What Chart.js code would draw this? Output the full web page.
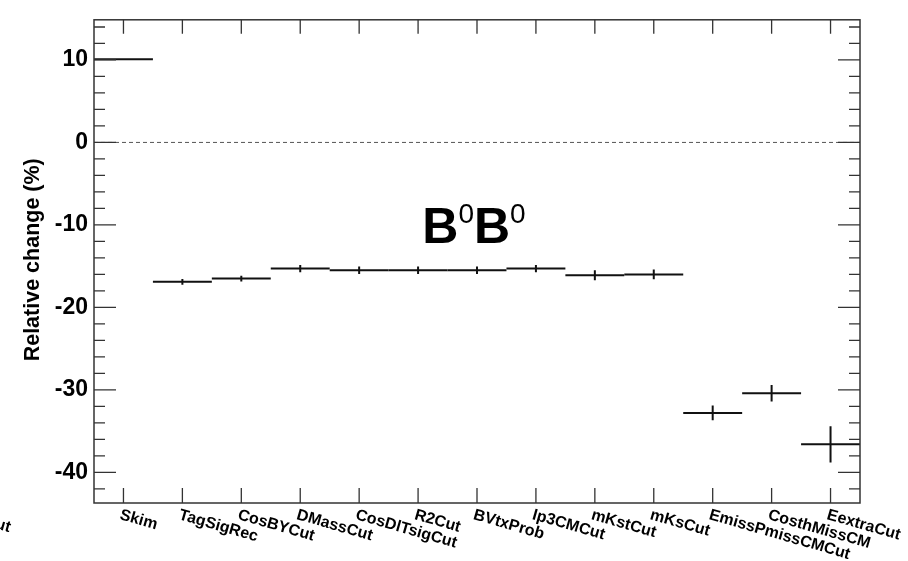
<!DOCTYPE html>
<html>
<head>
<meta charset="utf-8">
<script src="https://cdn.jsdelivr.net/npm/chart.js@4.4.0/dist/chart.umd.min.js"></script>
<style>
  html, body { margin: 0; padding: 0; background: #fff; }
  #wrap { width: 908px; height: 561px; }
</style>
</head>
<body>
<div id="wrap"><canvas id="c" width="908" height="561"></canvas></div>
<script>
// cut flow bins and relative change (%) w.r.t. previous step
const cuts = ['Skim', 'TagSigRec', 'CosBYCut', 'DMassCut', 'CosDlTsigCut', 'R2Cut', 'BVtxProb',
  'Ip3CMCut', 'mKstCut', 'mKsCut', 'EmissPmissCMCut', 'CosthMissCM', 'EextraCut'];
const relChange = [10.1, -16.9, -16.5, -15.3, -15.5, -15.5, -15.5, -15.3, -16.1, -16.0, -32.8, -30.4, -36.6];
const relErr = [0, 0.35, 0.35, 0.45, 0.45, 0.45, 0.45, 0.45, 0.6, 0.6, 0.9, 1.0, 2.2];
const yMajor = [10, 0, -10, -20, -30, -40];
const offLabel = 'NoCut';   // leftover label, mostly off the canvas
const title = ['B', '0', 'B', '0'];

const FONT = '"Liberation Sans", Arial, Helvetica, sans-serif';

// ROOT-like frame, ticks, error bars and labels
const rootStyle = {
  id: 'rootStyle',
  afterDatasetsDraw(chart) {
    const { ctx, chartArea: a, scales: { x, y } } = chart;
    ctx.save();

    // dashed zero line
    ctx.strokeStyle = '#555';
    ctx.lineWidth = 1;
    ctx.setLineDash([4, 3]);
    ctx.beginPath();
    ctx.moveTo(a.left, y.getPixelForValue(0));
    ctx.lineTo(a.right, y.getPixelForValue(0));
    ctx.stroke();
    ctx.setLineDash([]);

    // data: bin width line + error bar
    ctx.strokeStyle = '#111';
    ctx.lineWidth = 2;
    relChange.forEach((v, i) => {
      const py = y.getPixelForValue(v);
      ctx.beginPath();
      ctx.moveTo(x.getPixelForValue(i - 0.5), py);
      ctx.lineTo(x.getPixelForValue(i + 0.5), py);
      if (relErr[i] > 0) {
        const px = x.getPixelForValue(i);
        ctx.moveTo(px, y.getPixelForValue(v + relErr[i]));
        ctx.lineTo(px, y.getPixelForValue(v - relErr[i]));
      }
      ctx.stroke();
    });

    // frame
    ctx.strokeStyle = '#333';
    ctx.lineWidth = 1.5;
    ctx.strokeRect(a.left, a.top, a.right - a.left, a.bottom - a.top);

    // y ticks, major + minor, both sides
    ctx.lineWidth = 1.3;
    ctx.beginPath();
    for (let v = -42; v <= 14; v += 2) {
      const py = y.getPixelForValue(v);
      const len = yMajor.includes(v) ? 22 : 11;
      ctx.moveTo(a.left, py); ctx.lineTo(a.left + len, py);
      ctx.moveTo(a.right, py); ctx.lineTo(a.right - len, py);
    }
    // x ticks at bin centers, top and bottom
    cuts.forEach((c, i) => {
      const px = x.getPixelForValue(i);
      ctx.moveTo(px, a.bottom); ctx.lineTo(px, a.bottom - 15);
      ctx.moveTo(px, a.top); ctx.lineTo(px, a.top + 14);
    });
    ctx.stroke();

    // rotated bin labels
    ctx.fillStyle = '#000';
    ctx.font = 'bold 16px ' + FONT;
    ctx.textAlign = 'left';
    ctx.textBaseline = 'top';
    const drawLabel = (txt, val) => {
      ctx.save();
      ctx.translate(x.getPixelForValue(val) - 1, a.bottom + 4);
      ctx.rotate(16 * Math.PI / 180);
      ctx.fillText(txt, 0, 0);
      ctx.restore();
    };
    cuts.forEach((c, i) => drawLabel(c, i));
    drawLabel(offLabel, -2.65);

    // y axis title
    ctx.save();
    ctx.font = 'bold 21.5px ' + FONT;
    ctx.textAlign = 'center';
    ctx.textBaseline = 'alphabetic';
    ctx.translate(39, a.top + 240);
    ctx.rotate(-Math.PI / 2);
    ctx.fillText('Relative change (%)', 0, 0);
    ctx.restore();

    // B0B0 title
    const big = 'bold 50px ' + FONT, sup = '28px ' + FONT;
    ctx.textBaseline = 'alphabetic';
    let w = 0;
    title.forEach((t, k) => { ctx.font = k % 2 ? sup : big; w += ctx.measureText(t).width; });
    let tx = (a.left + a.right) / 2 - w / 2 - 3;
    const base = a.top + 223;
    title.forEach((t, k) => {
      ctx.font = k % 2 ? sup : big;
      ctx.fillText(t, tx, k % 2 ? base - 20 : base);
      tx += ctx.measureText(t).width;
    });

    ctx.restore();
  }
};

new Chart(document.getElementById('c'), {
  type: 'scatter',
  data: {
    datasets: [{
      data: relChange.map((v, i) => ({ x: i, y: v })),
      pointRadius: 0,
      showLine: false
    }]
  },
  options: {
    responsive: false,
    animation: false,
    layout: { padding: { top: 10, right: 48, left: 0, bottom: 0 } },
    plugins: { legend: { display: false }, tooltip: { enabled: false } },
    scales: {
      x: {
        type: 'linear',
        min: -0.5,
        max: 12.5,
        grid: { display: false },
        border: { display: false },
        ticks: { display: false },
        afterFit: s => { s.height = 58; }
      },
      y: {
        min: -43.72,
        max: 14.87,
        grid: { display: false, drawTicks: false },
        border: { display: false },
        ticks: {
          stepSize: 10,
          includeBounds: false,
          padding: 6,
          color: '#000',
          font: { family: FONT, size: 23, weight: 'bold' }
        },
        afterFit: s => { s.width = 94; }
      }
    }
  },
  plugins: [rootStyle]
});
</script>
</body>
</html>
